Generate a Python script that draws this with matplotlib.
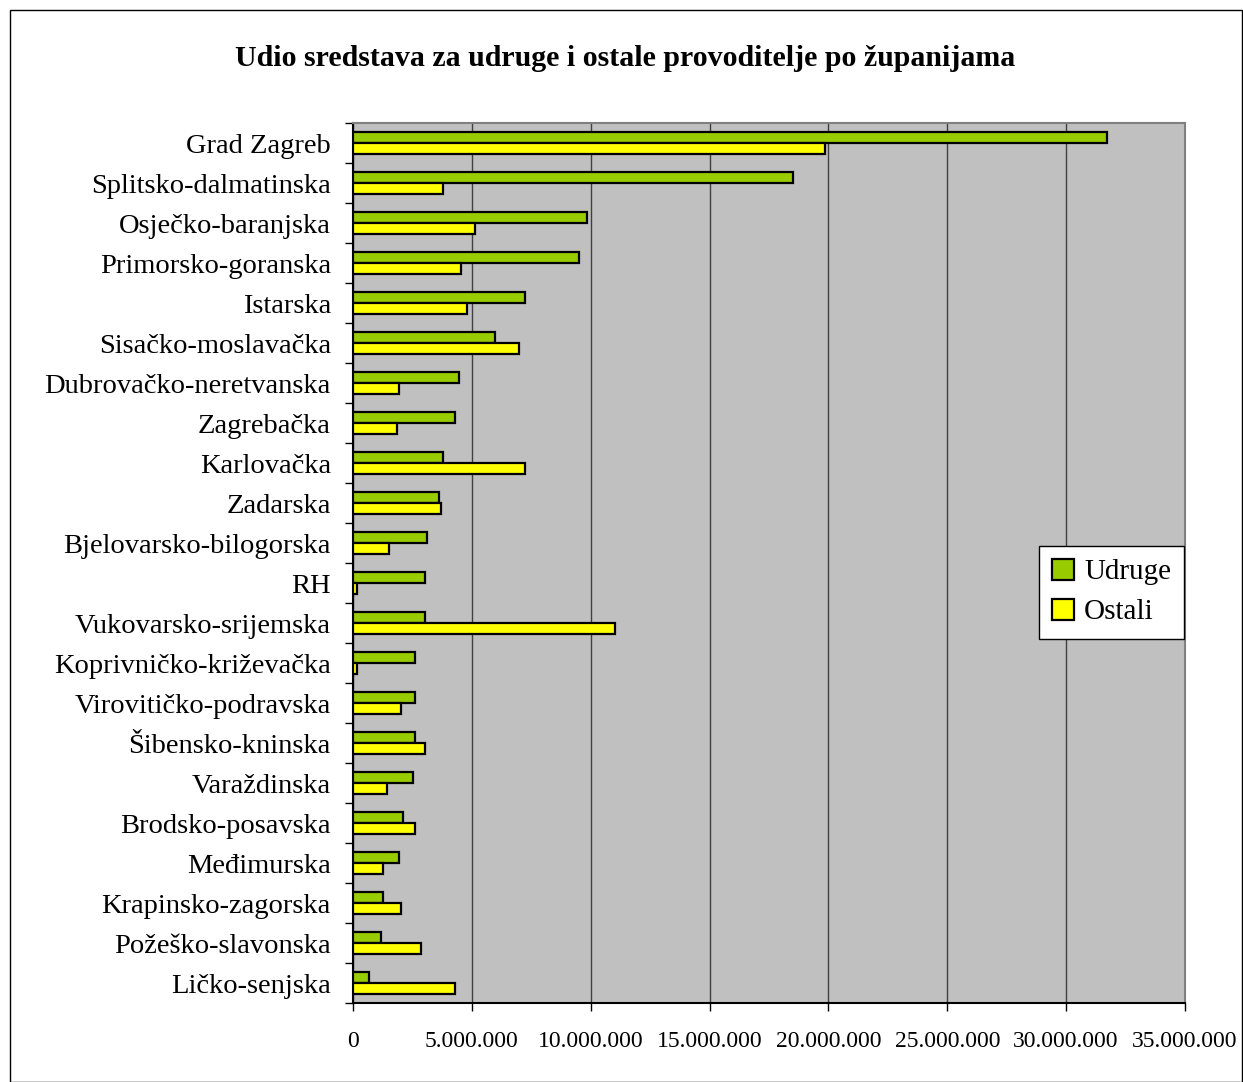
import numpy as np
import matplotlib.pyplot as plt
from matplotlib.patches import Rectangle
from matplotlib.ticker import FuncFormatter

plt.rcParams['font.family'] = ['Liberation Serif', 'DejaVu Serif']

# Data (values in kuna)
zupanije = ['Grad Zagreb', 'Splitsko-dalmatinska', 'Osječko-baranjska',
            'Primorsko-goranska', 'Istarska', 'Sisačko-moslavačka',
            'Dubrovačko-neretvanska', 'Zagrebačka', 'Karlovačka', 'Zadarska',
            'Bjelovarsko-bilogorska', 'RH', 'Vukovarsko-srijemska',
            'Koprivničko-križevačka', 'Virovitičko-podravska', 'Šibensko-kninska',
            'Varaždinska', 'Brodsko-posavska', 'Međimurska', 'Krapinsko-zagorska',
            'Požeško-slavonska', 'Ličko-senjska']
udruge = [31.70, 18.50, 9.84, 9.50, 7.24, 5.97, 4.46, 4.29, 3.79, 3.62,
          3.11, 3.03, 3.03, 2.61, 2.61, 2.61, 2.52, 2.10, 1.94, 1.26,
          1.18, 0.67]
ostali = [19.85, 3.79, 5.13, 4.54, 4.80, 6.98, 1.94, 1.85, 7.24, 3.70,
          1.51, 0.17, 11.02, 0.17, 2.02, 3.03, 1.43, 2.61, 1.26, 2.02,
          2.86, 4.29]
udruge = np.array(udruge) * 1e6
ostali = np.array(ostali) * 1e6

fig = plt.figure(figsize=(12.43, 10.82), dpi=100)
ax = fig.add_axes([0.284, 0.073, 0.6693, 0.8133])

y = np.arange(len(zupanije))
h = 0.28
ax.barh(y - h / 2, udruge, height=h, color='#99CC00', edgecolor='black',
        linewidth=1.6, label='Udruge', zorder=3)
ax.barh(y + h / 2, ostali, height=h, color='#FFFF00', edgecolor='black',
        linewidth=1.6, label='Ostali', zorder=3)

ax.set_facecolor('#C0C0C0')
ax.set_xlim(0, 35e6)
ax.set_ylim(len(zupanije) - 0.5, -0.5)
ax.set_xticks(np.arange(0, 35e6 + 1, 5e6))
ax.xaxis.set_major_formatter(FuncFormatter(lambda v, p: f'{int(v):,}'.replace(',', '.')))
ax.grid(axis='x', color='#404040', linewidth=1, zorder=1)

ax.set_yticks(y)
ax.set_yticklabels(zupanije, fontsize=20.5)
ax.set_yticks(np.arange(len(zupanije) + 1) - 0.5, minor=True)
ax.tick_params(axis='y', which='major', length=0, pad=16)
ax.tick_params(axis='y', which='minor', length=6, width=1, color='black')
ax.tick_params(axis='x', length=6, width=1, labelsize=17, pad=14)

for s in ['top', 'right']:
    ax.spines[s].set_color('#808080')
    ax.spines[s].set_linewidth(1.5)
for s in ['left', 'bottom']:
    ax.spines[s].set_color('black')
    ax.spines[s].set_linewidth(1.5)

leg = ax.legend(loc='center left', bbox_to_anchor=(0.8245, 0.467), fontsize=21,
                frameon=True, fancybox=False, edgecolor='black', framealpha=1,
                handlelength=0.75, handleheight=0.75, handletextpad=0.35,
                borderpad=0.45, labelspacing=0.45, borderaxespad=0)
leg.get_frame().set_linewidth(1)
for p in leg.get_patches():
    p.set_linewidth(1.6)

fig.text(0.503, 0.946, 'Udio sredstava za udruge i ostale provoditelje po županijama',
         ha='center', va='center', fontsize=21.5, fontweight='bold')

fig.patches.append(Rectangle((0.008, 0.0), 0.991, 0.991, transform=fig.transFigure,
                             fill=False, edgecolor='black', linewidth=1))

plt.savefig('out.png', dpi=100)
